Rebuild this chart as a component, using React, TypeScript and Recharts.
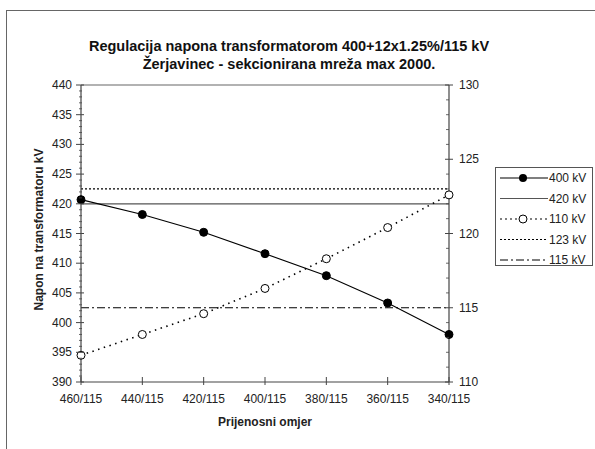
import { LineChart, Line, XAxis, YAxis, Legend, ReferenceLine, Label } from "recharts";

const ratios = ["460/115", "440/115", "420/115", "400/115", "380/115", "360/115", "340/115"];
const hv400 = [420.7, 418.2, 415.2, 411.6, 407.9, 403.3, 398.0];
const lv110 = [111.8, 113.2, 114.6, 116.3, 118.3, 120.4, 122.6];
const lim420 = [420, 420, 420, 420, 420, 420, 420];
const lim123 = [123, 123, 123, 123, 123, 123, 123];
const lim115 = [115, 115, 115, 115, 115, 115, 115];

const leftRange = [390, 440];
const rightRange = [110, 130];

const seq = (a: number, b: number) => Array.from({ length: b - a + 1 }, (_, i) => a + i);
const leftTicks = seq(leftRange[0], leftRange[1]);
const rightTicks = seq(rightRange[0], rightRange[1]);

const data = ratios.map((r, i) => ({
  ratio: r,
  v400: hv400[i],
  v420: lim420[i],
  v110: lv110[i],
  v123: lim123[i],
  v115: lim115[i],
}));

const AX = "#444";
const TXT = "#222";

function LeftTick(props: any) {
  const { x, y, payload } = props;
  const ax = x + 9;
  const major = payload.value % 5 === 0;
  return (
    <g>
      <line x1={major ? ax - 5 : ax - 2} x2={major ? ax + 3 : ax + 1} y1={y} y2={y} stroke={AX} strokeWidth={major ? 1 : 0.8} />
      {major && (
        <text x={x} y={y} dy={4} textAnchor="end" fontSize={12} fill={TXT}>{payload.value}</text>
      )}
    </g>
  );
}

function RightTick(props: any) {
  const { x, y, payload } = props;
  const ax = x - 10;
  const major = payload.value % 5 === 0;
  return (
    <g>
      <line x1={major ? ax - 4 : ax - 3} x2={major ? ax + 4 : ax} y1={y} y2={y} stroke={AX} strokeWidth={major ? 1 : 0.8} />
      {major && (
        <text x={x} y={y} dy={4} textAnchor="start" fontSize={12} fill={TXT}>{payload.value}</text>
      )}
    </g>
  );
}

function BottomTick(props: any) {
  const { x, y, payload } = props;
  const ay = y - 8;
  return (
    <g>
      <line x1={x} x2={x} y1={ay - 5} y2={ay + 3} stroke={AX} />
      <text x={x} y={y + 13} textAnchor="middle" fontSize={12} fill={TXT}>{payload.value}</text>
    </g>
  );
}

const legendRows = [
  { name: "400 kV", dash: undefined, dot: "filled", color: "#000" },
  { name: "420 kV", dash: undefined, dot: null, color: "#555" },
  { name: "110 kV", dash: "2 3", dot: "open", color: "#000" },
  { name: "123 kV", dash: "2 2", dot: null, color: "#000" },
  { name: "115 kV", dash: "8 3 2 3", dot: null, color: "#000" },
];

function LegendBox() {
  return (
    <svg width={98} height={106} style={{ display: "block", overflow: "visible" }}>
      <rect x={0.5} y={0.5} width={97} height={98} fill="#fff" stroke="#555" />
      {legendRows.map((r, i) => {
        const y = 11 + i * 20.5;
        return (
          <g key={r.name}>
            <line x1={5} x2={53} y1={y} y2={y} stroke={r.color} strokeWidth={1.2} strokeDasharray={r.dash} />
            {r.dot === "filled" && <circle cx={28} cy={y} r={4} fill="#000" />}
            {r.dot === "open" && <circle cx={28} cy={y} r={4} fill="#fff" stroke="#000" />}
            <text x={54} y={y + 4} fontSize={12} fill={TXT}>{r.name}</text>
          </g>
        );
      })}
    </svg>
  );
}

export default function App() {
  return (
    <div
      style={{
        position: "absolute", left: 0, top: 0, width: 595, height: 449,
        background: "#fff", fontFamily: "'Liberation Sans', Arial, sans-serif", overflow: "hidden",
      }}
    >
      <div style={{ position: "absolute", left: 6, top: 10, width: 600, height: 500, borderTop: "1px solid #666", borderLeft: "1px solid #666" }} />
      <div style={{ position: "absolute", left: 0, top: 37, width: 578, textAlign: "center", fontWeight: "bold", fontSize: 14.5, lineHeight: "18px", color: "#111" }}>
        <div>Regulacija napona transformatorom 400+12x1.25%/115 kV</div>
        <div>Žerjavinec - sekcionirana mreža max 2000.</div>
      </div>
      <LineChart width={595} height={449} data={data} margin={{ top: 85, right: 96, bottom: 37, left: 31 }} style={{ position: "absolute", left: 0, top: 0 }}>
        <XAxis
          dataKey="ratio" scale="point" padding={{ left: 0, right: 0 }} height={30}
          tick={<BottomTick />} tickLine={false} tickSize={4} tickMargin={4} interval={0}
          axisLine={{ stroke: AX, strokeWidth: 1.2 }}
        >
          <Label
            content={(p: any) => (
              <text x={p.viewBox.x + p.viewBox.width / 2} y={426} textAnchor="middle" fontSize={12} fontWeight="bold" fill={TXT}>
                Prijenosni omjer
              </text>
            )}
          />
        </XAxis>
        <YAxis
          yAxisId="l" orientation="left" width={50} domain={leftRange} ticks={leftTicks} interval={0}
          type="number" allowDataOverflow tick={<LeftTick />} tickLine={false} tickSize={4} tickMargin={5}
          axisLine={{ stroke: AX, strokeWidth: 1.2 }}
        >
          <Label
            content={(p: any) => {
              const cx = p.viewBox.x + 8;
              const cy = p.viewBox.y + p.viewBox.height / 2 - 4;
              return (
                <text x={cx} y={cy} transform={`rotate(-90 ${cx} ${cy})`} dy={4} textAnchor="middle" fontSize={12} fontWeight="bold" fill={TXT}>
                  Napon na transformatoru kV
                </text>
              );
            }}
          />
        </YAxis>
        <YAxis
          yAxisId="r" orientation="right" width={50} domain={rightRange} ticks={rightTicks} interval={0}
          type="number" allowDataOverflow tick={<RightTick />} tickLine={false} tickSize={4} tickMargin={6}
          axisLine={{ stroke: AX, strokeWidth: 1.2 }}
        />
        <ReferenceLine yAxisId="l" y={leftRange[1]} stroke="#666" strokeWidth={1.2} />
        <Line yAxisId="l" dataKey="v420" name="420 kV" stroke="#555" strokeWidth={1.3} dot={false} isAnimationActive={false} />
        <Line yAxisId="r" dataKey="v123" name="123 kV" stroke="#000" strokeWidth={1.2} strokeDasharray="2 2" dot={false} isAnimationActive={false} />
        <Line yAxisId="r" dataKey="v115" name="115 kV" stroke="#000" strokeWidth={1.2} strokeDasharray="8 3 2 3" dot={false} isAnimationActive={false} />
        <Line
          yAxisId="r" dataKey="v110" name="110 kV" stroke="#000" strokeWidth={1.6} strokeDasharray="1.5 4.5"
          dot={{ r: 4, fill: "#fff", stroke: "#000", strokeWidth: 1, strokeDasharray: "" }} isAnimationActive={false}
        />
        <Line
          yAxisId="l" dataKey="v400" name="400 kV" stroke="#000" strokeWidth={1.1}
          dot={{ r: 4, fill: "#000", stroke: "#000", strokeWidth: 1 }} isAnimationActive={false}
        />
        <Legend
          layout="vertical" align="center" verticalAlign="middle"
          wrapperStyle={{ position: "absolute", left: 495, top: 167, width: 98, height: 106 }}
          content={() => <LegendBox />}
        />
      </LineChart>
    </div>
  );
}
